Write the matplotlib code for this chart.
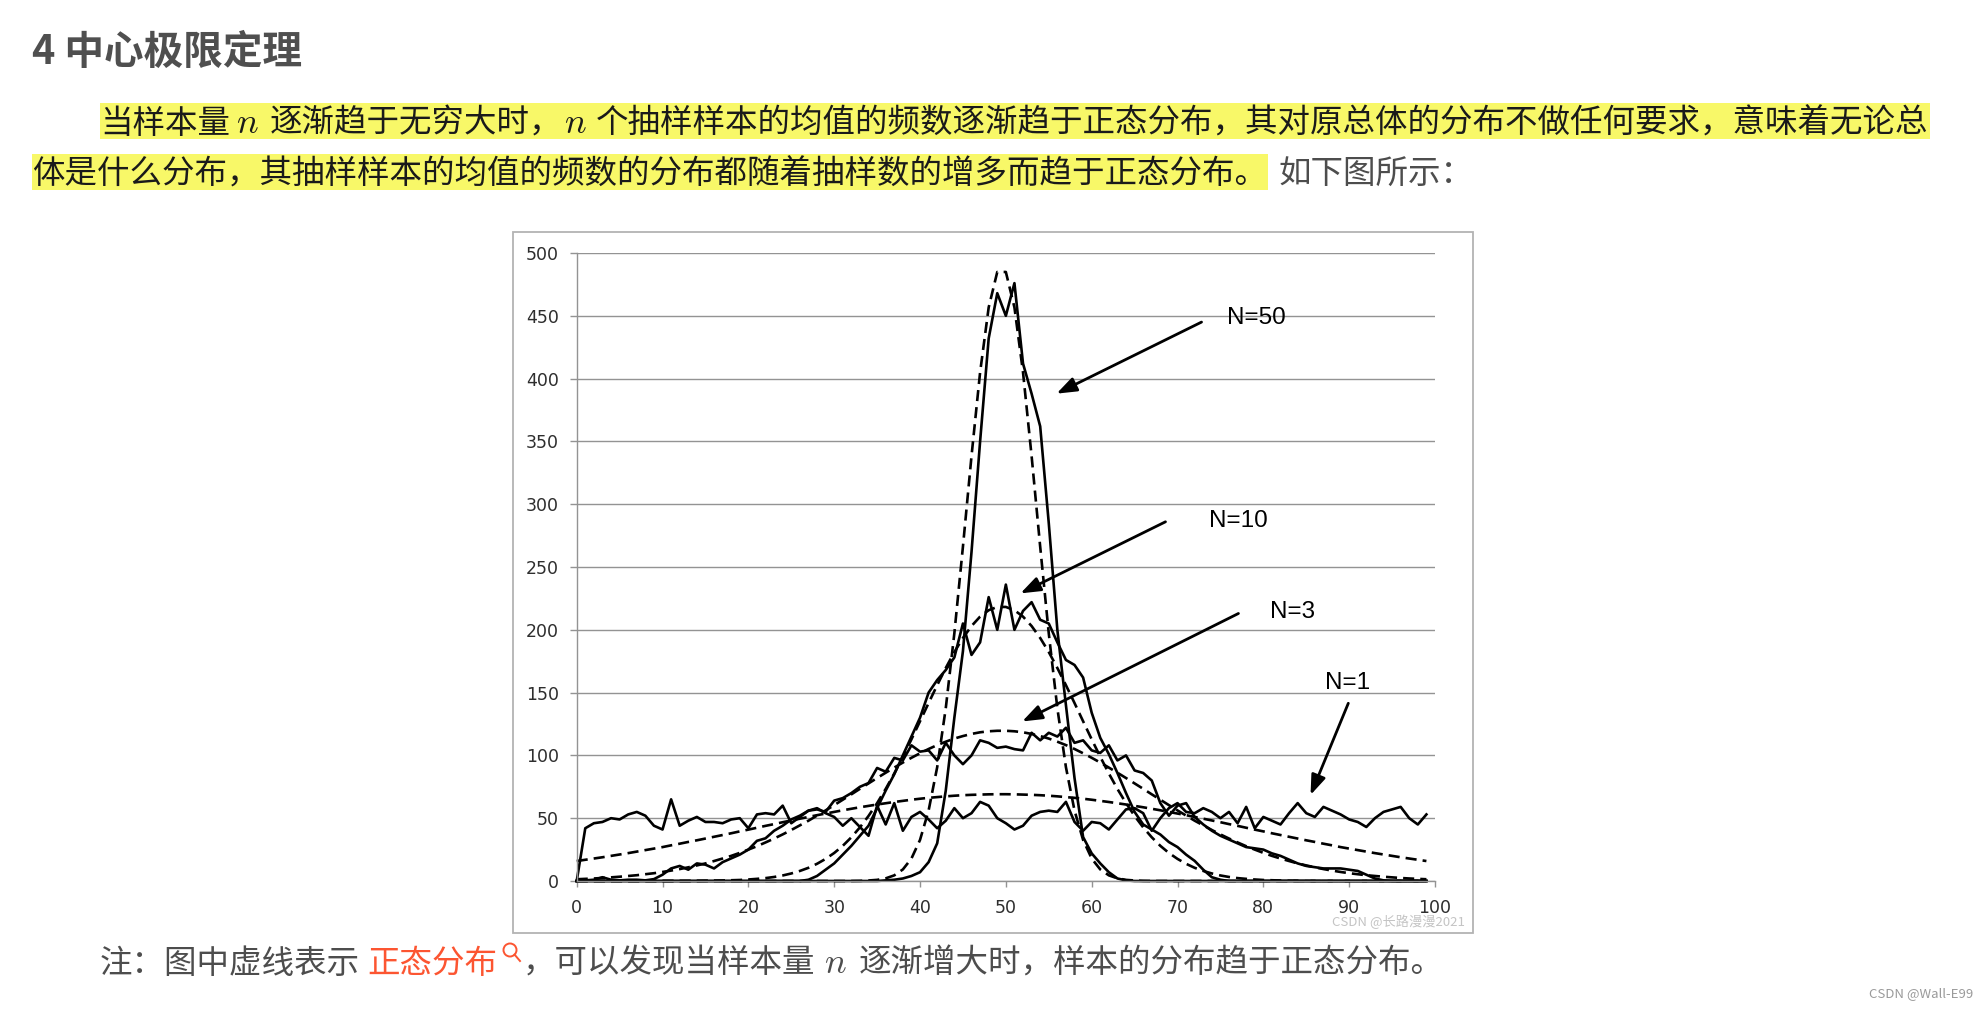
import matplotlib
matplotlib.use('Agg')
import matplotlib.pyplot as plt
from matplotlib.patches import Rectangle, Circle
from matplotlib.lines import Line2D

plt.rcParams['mathtext.fontset'] = 'cm'

# ---- values, x = 0..99 ----
x_vals = list(range(100))

n1_sample = [0, 42, 46, 47, 50, 49, 53, 55, 52, 44,
             41, 65, 44, 48, 51, 47, 47, 46, 49, 50,
             42, 53, 54, 53, 60, 46, 51, 56, 58, 54,
             51, 44, 50, 43, 36, 60, 45, 62, 40, 51,
             55, 49, 42, 48, 58, 50, 54, 63, 60, 50,
             46, 41, 44, 52, 55, 56, 55, 63, 47, 40,
             47, 46, 41, 49, 57, 58, 54, 40, 50, 58,
             62, 55, 54, 58, 55, 50, 55, 46, 59, 42,
             51, 48, 45, 54, 62, 54, 51, 59, 56, 53,
             49, 47, 43, 50, 55, 57, 59, 50, 45, 53]
n1_normal = [15.9, 16.9, 17.9, 18.9, 20.0, 21.1, 22.2, 23.4, 24.6, 25.8,
             27.0, 28.4, 29.7, 31.1, 32.4, 33.8, 35.2, 36.6, 38.0, 39.5,
             40.9, 42.4, 43.9, 45.3, 46.8, 48.2, 49.6, 51.0, 52.4, 53.7,
             55.0, 56.3, 57.5, 58.7, 59.8, 60.9, 61.9, 62.9, 63.8, 64.7,
             65.5, 66.2, 66.8, 67.4, 67.9, 68.3, 68.6, 68.8, 69.0, 69.1,
             69.1, 69.0, 68.8, 68.6, 68.3, 67.9, 67.4, 66.8, 66.2, 65.5,
             64.7, 63.8, 62.9, 61.9, 60.9, 59.8, 58.7, 57.5, 56.3, 55.0,
             53.7, 52.4, 51.0, 49.6, 48.2, 46.8, 45.3, 43.9, 42.4, 40.9,
             39.5, 38.0, 36.6, 35.2, 33.8, 32.4, 31.1, 29.7, 28.4, 27.0,
             25.8, 24.6, 23.4, 22.2, 21.1, 20.0, 18.9, 17.9, 16.9, 15.9]

n3_sample = [0, 0.5, 1, 3, 1, 0.5, 1, 1, 0.5, 1.5,
             5, 10, 12, 9, 14, 13, 10, 15, 18, 21,
             25, 32, 34, 40, 44, 49, 52, 56, 57, 55,
             64, 66, 70, 75, 78, 90, 87, 98, 96, 108,
             103, 104, 96, 110, 100, 93, 100, 112, 110, 106,
             107, 105, 104, 118, 112, 118, 115, 122, 110, 112,
             104, 102, 108, 96, 100, 88, 86, 80, 62, 52,
             60, 62, 51, 45, 40, 36, 33, 30, 27, 26,
             25, 22, 20, 17, 14, 12, 11, 10, 10, 10,
             9, 8, 5, 2, 0.5, 0, 0, 0, 0, 0]
n3_normal = [1.4, 1.7, 2.0, 2.4, 2.9, 3.4, 4.0, 4.6, 5.4, 6.2,
             7.2, 8.3, 9.5, 10.9, 12.4, 14.0, 15.9, 17.9, 20.0, 22.4,
             25.0, 27.7, 30.7, 33.8, 37.1, 40.6, 44.3, 48.0, 52.1, 56.2,
             60.4, 64.7, 69.0, 73.4, 77.7, 82.0, 86.2, 90.3, 94.3, 98.1,
             101.7, 105.1, 108.2, 110.9, 113.4, 115.4, 117.1, 118.4, 119.2, 119.6,
             119.6, 119.2, 118.4, 117.1, 115.4, 113.4, 110.9, 108.2, 105.1, 101.7,
             98.1, 94.3, 90.3, 86.2, 82.0, 77.7, 73.4, 69.0, 64.7, 60.4,
             56.2, 52.1, 48.0, 44.3, 40.6, 37.1, 33.8, 30.7, 27.7, 25.0,
             22.4, 20.0, 17.9, 15.9, 14.0, 12.4, 10.9, 9.5, 8.3, 7.2,
             6.2, 5.4, 4.6, 4.0, 3.4, 2.9, 2.4, 2.0, 1.7, 1.4]

n10_sample = [0, 0, 0, 0, 0, 0, 0, 0, 0, 0,
              0, 0, 0, 0, 0, 0, 0, 0, 0, 0,
              0, 0, 0, 0, 0, 0, 0, 1, 4, 9,
              14, 21, 28, 36, 44, 58, 72, 85, 100, 115,
              130, 150, 160, 168, 178, 205, 180, 190, 226, 200,
              236, 200, 215, 222, 208, 205, 190, 176, 172, 162,
              134, 114, 101, 86, 70, 55, 45, 41, 37, 31,
              27, 21, 16, 9, 3, 1, 0, 0, 0, 0,
              0, 0, 0, 0, 0, 0, 0, 0, 0, 0,
              0, 0, 0, 0, 0, 0, 0, 0, 0, 0]
n10_normal = [0, 0, 0, 0, 0, 0, 0, 0, 0, 0,
              0, 0, 0, 0, 0.1, 0.2, 0.3, 0.4, 0.6, 0.8,
              1.2, 1.7, 2.3, 3.2, 4.4, 6.0, 8.0, 10.5, 13.7, 17.6,
              22.3, 28.0, 34.8, 42.7, 51.8, 62.0, 73.3, 85.6, 98.9, 112.8,
              127.2, 141.7, 155.9, 169.6, 182.3, 193.5, 203.0, 210.5, 215.6, 218.2,
              218.2, 215.6, 210.5, 203.0, 193.5, 182.3, 169.6, 155.9, 141.7, 127.2,
              112.8, 98.9, 85.6, 73.3, 62.0, 51.8, 42.7, 34.8, 28.0, 22.3,
              17.6, 13.7, 10.5, 8.0, 6.0, 4.4, 3.2, 2.3, 1.7, 1.2,
              0.8, 0.6, 0.4, 0.3, 0.2, 0.1, 0, 0, 0, 0,
              0, 0, 0, 0, 0, 0, 0, 0, 0, 0]

n50_sample = [0, 0, 0, 0, 0, 0, 0, 0, 0, 0,
              0, 0, 0, 0, 0, 0, 0, 0, 0, 0,
              0, 0, 0, 0, 0, 0, 0, 0, 0, 0,
              0, 0, 0, 0, 0, 0, 0.5, 1, 2, 4,
              7, 15, 30, 72, 130, 183, 262, 350, 432, 468,
              450, 476, 412, 388, 362, 285, 200, 140, 82, 35,
              22, 14, 7, 2, 0.5, 0, 0, 0, 0, 0,
              0, 0, 0, 0, 0, 0, 0, 0, 0, 0,
              0, 0, 0, 0, 0, 0, 0, 0, 0, 0,
              0, 0, 0, 0, 0, 0, 0, 0, 0, 0]
n50_normal = [0, 0, 0, 0, 0, 0, 0, 0, 0, 0,
              0, 0, 0, 0, 0, 0, 0, 0, 0, 0,
              0, 0, 0, 0, 0, 0, 0, 0, 0, 0,
              0, 0, 0, 0.1, 0.4, 0.9, 2.1, 4.5, 9.2, 17.9,
              32.7, 56.1, 90.6, 137.6, 197.2, 266.2, 338.4, 405.0, 456.7, 484.9,
              484.9, 456.7, 405.0, 338.4, 266.2, 197.2, 137.6, 90.6, 56.1, 32.7,
              17.9, 9.2, 4.5, 2.1, 0.9, 0.4, 0.1, 0, 0, 0,
              0, 0, 0, 0, 0, 0, 0, 0, 0, 0,
              0, 0, 0, 0, 0, 0, 0, 0, 0, 0,
              0, 0, 0, 0, 0, 0, 0, 0, 0, 0]

x_ticks = list(range(0, 101, 10))
y_ticks = list(range(0, 501, 50))
arrow_labels = ['N=50', 'N=10', 'N=3', 'N=1']

# ---- page ----
W, H = 1986, 1010
CJK = ['Noto Sans CJK SC', 'DejaVu Sans']
BLACK = '#1a1a1a'
GRAY = '#4d4d4d'
ORANGE = '#fc5531'
MARK = '#f8f868'

fig = plt.figure(figsize=(W / 100, H / 100), dpi=100)
fig.patch.set_facecolor('white')
renderer = fig.canvas.get_renderer()


def put_run(x, base_y, parts):
    """Lay text pieces left to right on one baseline (pixel coords from top)."""
    spans = []
    for text, gap, kw in parts:
        x += gap
        t = fig.text(x / W, 1 - base_y / H, text, ha='left', va='baseline', **kw)
        bb = t.get_window_extent(renderer)
        spans.append((x, bb.x1))
        x = bb.x1
    return spans


def mark(x0, x1, base_y):
    fig.patches.append(Rectangle((x0 / W, 1 - (base_y + 6) / H), (x1 - x0) / W, 36 / H,
                                 transform=fig.transFigure, facecolor=MARK,
                                 edgecolor='none', zorder=0))


body = dict(fontsize=23.4, family=CJK)
hl = dict(body, color=BLACK)
gr = dict(body, color=GRAY)
math_hl = dict(fontsize=26, color=BLACK)
math_gr = dict(fontsize=26, color=GRAY)

fig.text(32 / W, 1 - 64 / H, '4 中心极限定理', fontsize=28.5, fontweight='bold',
         family=CJK, color='#4f4f4f', ha='left', va='baseline')

spans = put_run(100, 133, [
    ('当样本量', 0, hl),
    ('$n$', 6, math_hl),
    ('逐渐趋于无穷大时，', 11, hl),
    ('$n$', 2, math_hl),
    ('个抽样样本的均值的频数逐渐趋于正态分布，其对原总体的分布不做任何要求，意味着无论总', 9, hl),
])
mark(spans[0][0], spans[-1][1] + 1, 133)

spans = put_run(32, 184, [
    ('体是什么分布，其抽样样本的均值的频数的分布都随着抽样数的增多而趋于正态分布。', 0, hl),
    ('如下图所示：', 11, gr),
])
mark(spans[0][0], spans[0][1] + 1, 184)

spans = put_run(100, 973, [
    ('注：图中虚线表示', 0, gr),
    ('正态分布', 7, dict(body, color=ORANGE)),
])
icon_x = spans[-1][1]
cx, cy = icon_x + 13, 950
fig.add_artist(Circle((cx / 100, (H - cy) / 100), 6.5 / 100, transform=fig.dpi_scale_trans,
                      fill=False, edgecolor=ORANGE, linewidth=1.4))
fig.add_artist(Line2D([(cx + 4.5) / 100, (cx + 10) / 100], [(H - cy - 4.5) / 100, (H - cy - 11) / 100],
                      transform=fig.dpi_scale_trans, color=ORANGE, linewidth=1.4))
put_run(icon_x + 26, 973, [
    ('，可以发现当样本量', 0, gr),
    ('$n$', 8, math_gr),
    ('逐渐增大时，样本的分布趋于正态分布。', 12, gr),
])

fig.text(1973 / W, 1 - 994 / H, 'CSDN @Wall-E99', fontsize=9.5, family=CJK,
         color='#9a9a9a', ha='right', va='center')

# ---- chart frame ----
fig.patches.append(Rectangle((513 / W, 1 - 933 / H), (1473 - 513) / W, (933 - 232) / H,
                             transform=fig.transFigure, fill=False,
                             edgecolor='#b3b3b3', linewidth=1.3, zorder=1))

ax = fig.add_axes([576.7 / W, 1 - 881 / H, (1435 - 576.7) / W, (881 - 253) / H])
ax.set_facecolor('white')

line_kw = dict(color='black', linewidth=1.9, clip_on=False,
               solid_joinstyle='round', dash_joinstyle='round')
dash = (0, (4.2, 2.3))
for sample, normal in [(n1_sample, n1_normal), (n3_sample, n3_normal),
                       (n10_sample, n10_normal), (n50_sample, n50_normal)]:
    ax.plot(x_vals, normal, linestyle=dash, **line_kw)
    ax.plot(x_vals, sample, linestyle='-', **line_kw)

ax.set_xlim(0, 100)
ax.set_ylim(0, 500)
ax.set_xticks(x_ticks)
ax.set_yticks(y_ticks)
grid_c = '#939393'
ax.yaxis.grid(True, color=grid_c, linewidth=1.0, zorder=0)
ax.set_axisbelow(True)
for side in ['top', 'right']:
    ax.spines[side].set_visible(False)
for side in ['left', 'bottom']:
    ax.spines[side].set_color(grid_c)
    ax.spines[side].set_linewidth(1.0)
ax.tick_params(axis='x', direction='out', length=4.3, width=1, color=grid_c, pad=9,
               labelsize=12.5, labelcolor='#2e2e2e')
ax.tick_params(axis='y', direction='out', length=4.8, width=1, color=grid_c, pad=8,
               labelsize=12.5, labelcolor='#2e2e2e')

# arrows and labels
label_pos = [(79.2, 448), (77.1, 287), (83.4, 214), (89.8, 158)]
arrow_tail = [(72.8, 445), (68.6, 286), (77.1, 213), (89.9, 141.5)]
arrow_head = [(55.9, 388), (51.7, 229), (51.9, 127), (85.5, 68.5)]
for lab, pos, tail, head in zip(arrow_labels, label_pos, arrow_tail, arrow_head):
    ax.text(pos[0], pos[1], lab, fontsize=17.5, family='Liberation Sans',
            ha='center', va='center', color='black')
    ax.annotate('', xy=head, xytext=tail,
                arrowprops=dict(arrowstyle='-|>,head_length=0.6,head_width=0.22',
                                mutation_scale=20, lw=2, color='black',
                                shrinkA=0, shrinkB=0))

fig.text(1465 / W, 1 - 922 / H, 'CSDN @长路漫漫2021', fontsize=9.5, family=CJK,
         color='#c4c4c4', ha='right', va='center')

fig.savefig('out.png', dpi=100, facecolor='white')
